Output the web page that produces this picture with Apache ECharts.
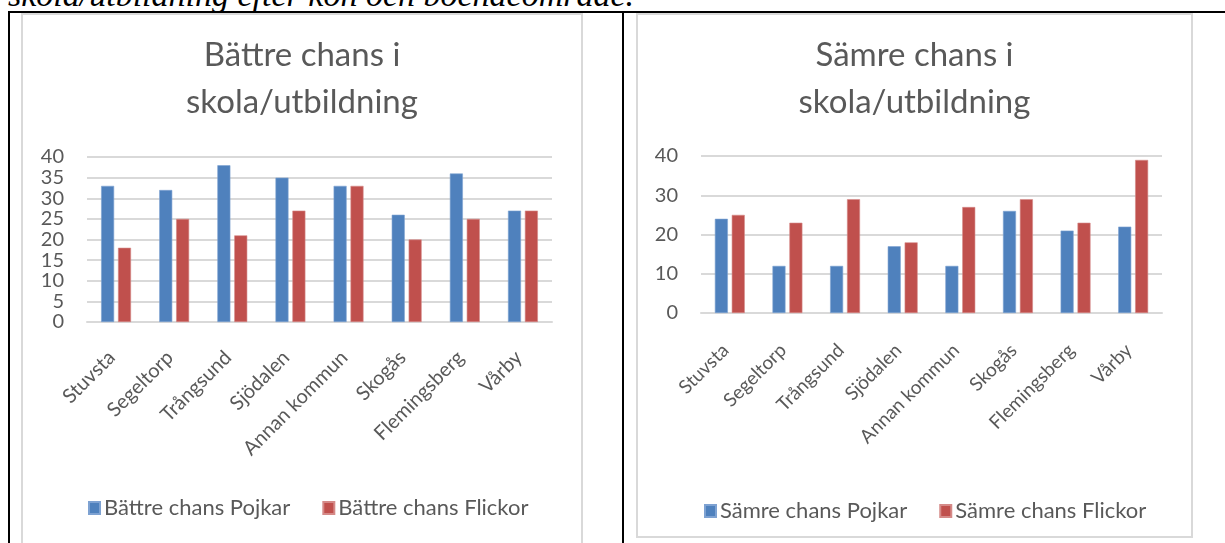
<!DOCTYPE html>
<html>
<head>
<meta charset="utf-8">
<script src="https://cdn.jsdelivr.net/npm/echarts@6/dist/echarts.min.js"></script>
<style>
  html, body { margin: 0; padding: 0; background: #fff; }
  body { position: relative; width: 1225px; height: 543px; overflow: hidden; }
  .caption {
    position: absolute; left: 8px; top: -22px;
    font-family: "Liberation Serif", serif; font-style: italic;
    font-size: 34px; line-height: 1; white-space: nowrap; color: #000;
  }
  .table-top { position: absolute; left: 8px; top: 11px; width: 1217px; height: 2px; background: #000; }
  .table-left { position: absolute; left: 8px; top: 11px; width: 2px; height: 532px; background: #000; }
  .table-mid { position: absolute; left: 622px; top: 11px; width: 2px; height: 532px; background: #000; }
  .chart-box { position: absolute; border: 2px solid #d9d9d9; box-sizing: border-box; }
</style>
</head>
<body>
  <div class="caption">skola/utbildning efter kön och boendeområde.</div>
  <div class="table-top"></div>
  <div class="table-left"></div>
  <div class="table-mid"></div>
  <div id="chartLeft" class="chart-box" style="left:21px; top:13px; width:562px; height:540px;"></div>
  <div id="chartRight" class="chart-box" style="left:636px; top:13px; width:557px; height:525px;"></div>

<script>
const categories = ['Stuvsta', 'Segeltorp', 'Trångsund', 'Sjödalen', 'Annan kommun', 'Skogås', 'Flemingsberg', 'Vårby']

// Bättre chans i skola/utbildning
const battrePojkar = [33, 32, 38, 35, 33, 26, 36, 27]
const battreFlickor = [18, 25, 21, 27, 33, 20, 25, 27]

// Sämre chans i skola/utbildning
const samrePojkar = [24, 12, 12, 17, 12, 26, 21, 22]
const samreFlickor = [25, 23, 29, 18, 27, 29, 23, 39]

const FONT = 'Lato, "Open Sans", sans-serif'
const TEXT = '#595959'
const GRIDLINE = '#d9d9d9'

function buildOption(cfg) {
  return {
    animation: false,
    color: ['#4f81bd', '#c0504d'],
    title: {
      text: cfg.title,
      left: 'center',
      top: 12,
      textStyle: {
        fontFamily: FONT,
        fontSize: 33,
        fontWeight: 'normal',
        color: TEXT,
        lineHeight: 47
      }
    },
    legend: {
      left: cfg.legendLeft,
      top: cfg.legendTop,
      itemWidth: 11,
      itemHeight: 12,
      itemGap: 32,
      icon: 'rect',
      textStyle: { fontFamily: FONT, fontSize: 22, color: TEXT, padding: [0, 0, 0, -1] },
      data: [cfg.names[0], cfg.names[1]]
    },
    grid: cfg.grid,
    xAxis: {
      type: 'category',
      data: categories,
      axisLine: { lineStyle: { color: GRIDLINE, width: 2 } },
      axisTick: { show: false },
      axisLabel: {
        rotate: 45,
        interval: 0,
        margin: cfg.labelMargin,
        padding: [0, 6, 0, 0],
        fontFamily: FONT,
        fontSize: cfg.labelSize,
        color: TEXT
      }
    },
    yAxis: {
      type: 'value',
      min: 0,
      max: 40,
      interval: cfg.interval,
      axisLine: { show: false },
      axisTick: { show: false },
      splitLine: { lineStyle: { color: GRIDLINE, width: 2 } },
      axisLabel: {
        margin: 23,
        fontFamily: FONT,
        fontSize: 20,
        lineHeight: 18,
        color: TEXT,
        showMinLabel: true,
        showMaxLabel: true,
        hideOverlap: false
      }
    },
    series: [
      {
        name: cfg.names[0],
        type: 'bar',
        barWidth: 13,
        barGap: '30%',
        itemStyle: { borderColor: '#7ea2d2', borderWidth: 0.6 },
        data: cfg.data[0]
      },
      {
        name: cfg.names[1],
        type: 'bar',
        barWidth: 13,
        barGap: '30%',
        itemStyle: { borderColor: '#d58a88', borderWidth: 0.6 },
        data: cfg.data[1]
      }
    ]
  }
}

const left = echarts.init(document.getElementById('chartLeft'))
left.setOption(buildOption({
  title: 'Bättre chans i\nskola/utbildning',
  names: ['Bättre chans Pojkar', 'Bättre chans Flickor'],
  data: [battrePojkar, battreFlickor],
  interval: 5,
  grid: { left: 64, top: 142, width: 465, height: 165 },
  labelMargin: 28,
  labelSize: 20,
  legendLeft: 60,
  legendTop: 477
}))

const right = echarts.init(document.getElementById('chartRight'))
right.setOption(buildOption({
  title: 'Sämre chans i\nskola/utbildning',
  names: ['Sämre chans Pojkar', 'Sämre chans Flickor'],
  data: [samrePojkar, samreFlickor],
  interval: 10,
  grid: { left: 63, top: 141, width: 461, height: 157 },
  labelMargin: 30,
  labelSize: 19,
  legendLeft: 61,
  legendTop: 480
}))
</script>
</body>
</html>
